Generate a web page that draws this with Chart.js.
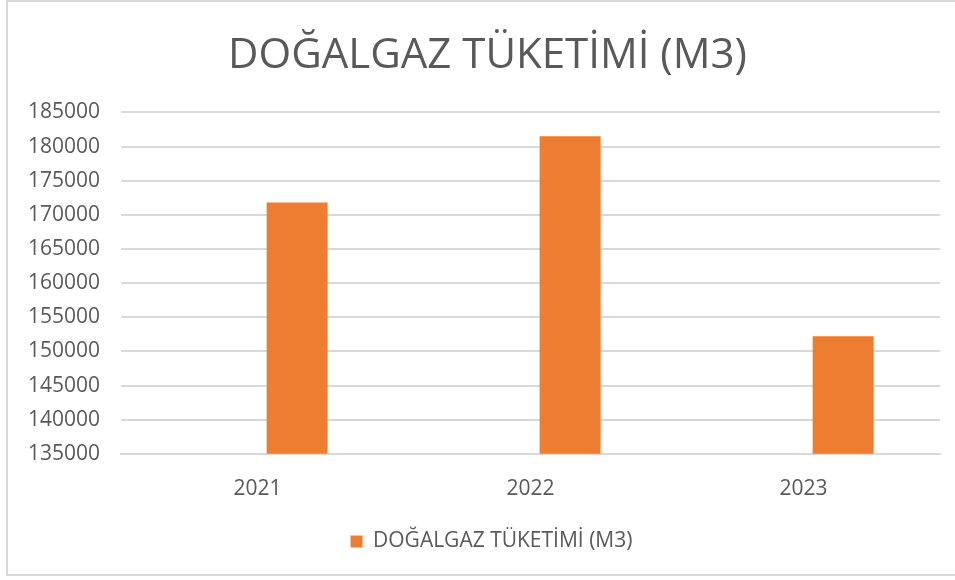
<!DOCTYPE html>
<html lang="tr">
<head>
  <meta charset="UTF-8">
  <title>Doğalgaz Tüketimi</title>
  <script src="https://cdn.jsdelivr.net/npm/chart.js"></script>
  <style>
    html, body { margin: 0; padding: 0; background: #fff; }
    #frame { position: absolute; left: 6px; top: 0; width: 955px; height: 576px;
             border: 2px solid #d9d9d9; box-sizing: border-box; }
    #wrap { position: absolute; left: 0; top: 0; width: 955px; height: 580px; }
  </style>
</head>
<body>
  <div id="frame"></div>
  <div id="wrap"><canvas id="gasChart" width="955" height="580"></canvas></div>

  <script>
    const years = ['2021', '2022', '2023'];
    const consumption = [171800, 181500, 152200];
    const yMin = 135000, yMax = 185000, yStep = 5000;
    const seriesName = 'DOĞALGAZ TÜKETİMİ (M3)';

    const grey = '#595959';
    const font = "'Open Sans', 'Liberation Sans', sans-serif";

    // the original frame is wider than the picture, so title and legend sit a bit right of centre
    const nudgeRight = {
      id: 'nudgeRight',
      afterLayout(chart) {
        if (chart.titleBlock) chart.titleBlock.left += 28;
        if (chart.legend) chart.legend.left += 36;
      }
    };

    new Chart(document.getElementById('gasChart'), {
      type: 'bar',
      data: {
        labels: years,
        datasets: [
          // empty slot so the bar sits right of the category centre, like the original
          { label: '', data: years.map(() => null), backgroundColor: 'transparent' },
          { label: seriesName, data: consumption, backgroundColor: '#ED7D31' }
        ]
      },
      plugins: [nudgeRight],
      options: {
        responsive: false,
        animation: false,
        datasets: { bar: { categoryPercentage: 0.58, barPercentage: 0.77 } },
        layout: { padding: { left: 7, right: 15, top: 0, bottom: 18 } },
        plugins: {
          title: {
            display: true, text: seriesName, color: grey,
            font: { family: font, size: 42, weight: 'normal' },
            padding: { top: 31, bottom: 31 }
          },
          legend: {
            position: 'bottom',
            labels: {
              color: grey, font: { family: font, size: 21 },
              boxWidth: 12, boxHeight: 12, padding: 14,
              filter: item => item.text !== ''
            }
          },
          tooltip: { enabled: false }
        },
        scales: {
          x: {
            grid: { display: false },
            border: { color: '#d9d9d9', width: 2 },
            ticks: { color: grey, font: { family: font, size: 21 }, padding: 15 }
          },
          y: {
            min: yMin, max: yMax,
            grid: { color: '#d9d9d9', lineWidth: 2, drawTicks: false },
            border: { display: false },
            ticks: {
              stepSize: yStep, color: grey, font: { family: font, size: 21 }, padding: 21,
              callback: v => String(v)
            }
          }
        }
      }
    });
  </script>
</body>
</html>
